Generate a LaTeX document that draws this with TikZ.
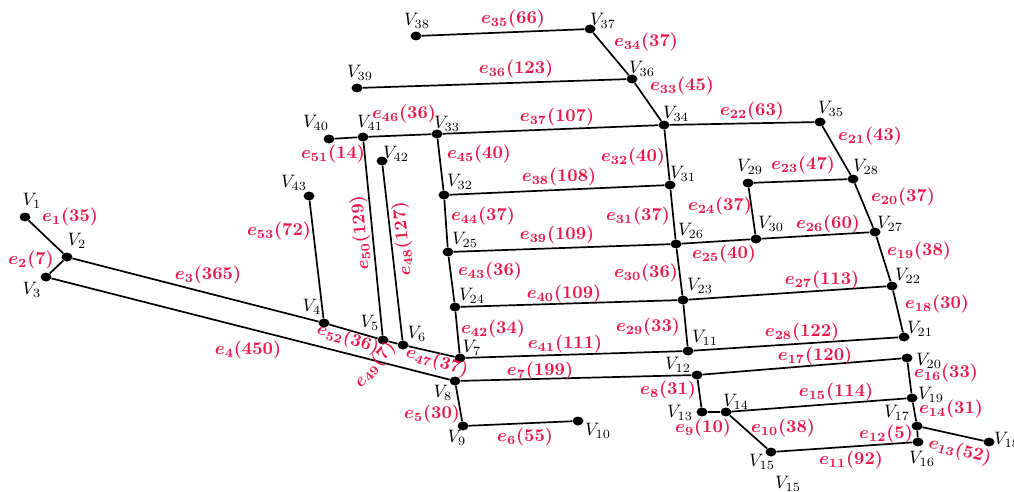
\documentclass[tikz,border=0pt]{standalone}
\usepackage{amsmath}
\usepackage{tikz}
\usetikzlibrary{shapes.geometric}
\definecolor{edgered}{HTML}{E8184A}
\tikzset{
  vdot/.style={
    ellipse, fill=black, inner sep=0pt,
    minimum width=11pt, minimum height=9pt
  },
  vlab/.style={scale=1.8, inner sep=0pt},
  elab/.style={font=\boldmath, scale=1.8, text=edgered, inner sep=0pt},
  link/.style={line width=1.7pt}
}

\begin{document}
\begin{tikzpicture}[x=1pt, y=-1pt]
\useasboundingbox (0,0) rectangle (1014,492);

% vertices
\foreach \n/\x/\y in {1/25/217, 2/67/257, 3/46/277, 4/324/323, 5/383/340,
    6/403/345, 7/460/358, 8/455/381, 9/463/426, 10/578/421, 11/688/351,
    12/697/375, 13/702/412, 14/726/412, 15/771/452, 16/918/442, 17/917/426,
    18/989/442, 19/912/398, 20/907/358, 21/904/337, 22/892/286, 23/683/300,
    24/455/307, 25/448/252, 26/676/244, 27/875/232, 28/853/179, 29/748/183,
    30/756/239, 31/670/185, 32/444/195, 33/437/134, 34/664/125, 35/820/122,
    36/632/79, 37/590/29, 38/416/36, 39/357/88, 40/329/139, 41/363/137,
    42/382/161, 43/309/196}
  \node[vdot] (v\n) at (\x,\y) {};

% road segments
\foreach \a/\b in {1/2, 2/3, 2/4, 3/8, 4/5, 5/6, 6/7, 5/41, 6/42, 43/4,
    40/41, 41/33, 33/32, 32/25, 25/24, 24/7, 7/11, 8/12, 8/9, 9/10,
    33/34, 32/31, 25/26, 24/23, 39/36, 38/37, 37/36, 36/34, 34/35,
    34/31, 31/26, 26/23, 23/11, 29/30, 29/28, 35/28, 28/27, 30/27,
    26/30, 27/22, 23/22, 22/21, 11/21, 12/20, 20/19, 14/19, 19/17,
    17/18, 17/16, 15/16, 14/15, 13/14, 12/13}
  \draw[link] (v\a) -- (v\b);

% vertex names
\foreach \n/\x/\y in {1/32/201, 2/77/241, 3/32/290, 4/312/307, 5/370/323,
    6/417/334, 7/472/348, 8/443/393, 9/457/438, 10/598/431, 11/705/338,
    12/678/365, 13/680/413, 14/736/402, 15/762/462, 16/922/459, 17/897/413,
    18/1007/440, 19/931/395, 20/929/361, 21/920/329, 22/908/276, 23/700/286,
    24/472/296, 25/465/240, 26/691/231, 27/890/224, 28/866/167, 29/750/167,
    30/771/224, 31/683/174, 32/460/182, 33/447/124, 34/676/114, 35/831/109,
    36/642/69, 37/603/21, 38/417/21, 39/360/73, 40/316/123, 41/370/123,
    42/396/154, 43/294/183}
  \node[vlab] (l\n) at (\x,\y) {$V_{\n}$};
\node[vlab] (l15b) at (788,484) {$V_{15}$};

% edge weights
\foreach \k/\w/\x/\y/\r in {1/35/70/217/0, 2/7/31/260/0, 3/365/208/275/0,
    4/450/248/350/0, 5/30/432/414/0, 6/55/525/437/0, 7/199/540/371/0,
    8/31/668/390/0, 9/10/703/428/0, 10/38/783/428/0, 11/92/851/460/0,
    12/5/886/434/0, 13/52/960/451/-15, 14/31/951/409/0, 15/114/836/392/0,
    16/33/946/373/0, 17/120/815/356/0, 18/30/937/304/0, 19/38/919/251/0,
    20/37/903/197/0, 21/43/870/136/0, 22/63/752/111/0, 23/47/803/165/0,
    24/37/720/206/0, 25/40/724/254/0, 26/60/828/224/0, 27/113/822/280/0,
    28/122/802/332/0, 29/33/648/327/0, 30/36/646/273/0, 31/37/638/216/0,
    32/40/633/157/0, 33/45/682/86/0, 34/37/646/42/0, 35/66/513/19/0,
    36/123/516/69/0, 37/107/557/117/0, 38/108/559/177/0, 39/109/557/235/0,
    40/109/564/294/0, 41/111/565/344/0, 42/34/493/329/0, 43/36/490/271/0,
    44/37/483/216/0, 45/40/479/154/0, 46/36/404/114/0, 47/37/437/362/-17,
    48/127/403/239/95, 49/7/375/365/50, 50/129/361/233/95, 51/14/333/154/0,
    52/36/348/339/-18, 53/72/279/231/0}
  \node[elab, rotate=\r] (e\k) at (\x,\y) {$e_{\k}(\w)$};
\end{tikzpicture}
\end{document}
